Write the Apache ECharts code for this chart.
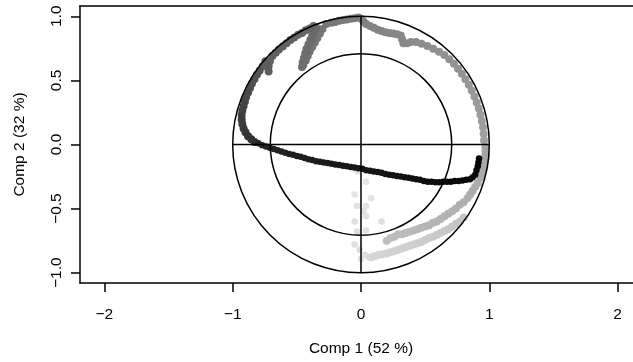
<!DOCTYPE html>
<html>
<head>
<meta charset="utf-8">
<script src="https://cdn.jsdelivr.net/npm/echarts@6/dist/echarts.min.js"></script>
<style>
  html, body { margin: 0; padding: 0; background: #fff; overflow: hidden; }
  #chart { width: 660px; height: 362px; }
</style>
</head>
<body>
<div id="chart"></div>
<script>
// Correlation circle: loadings of the variables on the first two components,
// drawn in variable order (light grey first, black last).

const xTickValues = [-2, -1, 0, 1, 2];
const xTickLabels = ['−2', '−1', '0', '1', '2'];
const yTickValues = [-1, -0.5, 0, 0.5, 1];
const yTickLabels = ['−1.0', '−0.5', '0.0', '0.5', '1.0'];
const xTitle = 'Comp 1 (52 %)';
const yTitle = 'Comp 2 (32 %)';

// reference circles (radius 1 and sqrt(0.5)) and the two axes through the origin
const circleRadii = [1, 0.7071];
const crossLines = [
  [[-1, 0], [1, 0]],
  [[0, -1], [0, 1]]
];

// variable loadings, in order
const lightSpread = [
  [-0.03,-0.21],[0.04,-0.29],[-0.05,-0.39],[0.08,-0.42],[-0.03,-0.48],[0.04,-0.48],
  [0.02,-0.52],[0.04,-0.56],[-0.05,-0.60],[0.16,-0.60],[-0.03,-0.68],[0.04,-0.67],
  [-0.05,-0.78],[-0.01,-0.82],[0.03,-0.86],[0.00,-0.89],[0.06,-0.88]
];
const lowerBand = [
  [0.08,-0.88],[0.11,-0.87],[0.14,-0.86],[0.17,-0.855],[0.20,-0.85],[0.23,-0.84],
  [0.26,-0.83],[0.29,-0.82],[0.32,-0.81],[0.35,-0.80],[0.38,-0.79],[0.41,-0.78],
  [0.44,-0.77],[0.47,-0.76],[0.50,-0.745],[0.53,-0.73],[0.56,-0.72],[0.59,-0.705],
  [0.62,-0.69],[0.65,-0.675],[0.68,-0.66],[0.71,-0.64],[0.74,-0.62],[0.77,-0.60],
  [0.80,-0.57]
];
const upperBand = [
  [0.20,-0.75],[0.23,-0.73],[0.26,-0.72],[0.29,-0.70],[0.32,-0.70],[0.35,-0.69],
  [0.38,-0.68],[0.41,-0.67],[0.44,-0.66],[0.47,-0.65],[0.50,-0.64],[0.53,-0.63],
  [0.56,-0.61],[0.59,-0.60],[0.62,-0.58],[0.65,-0.56],[0.68,-0.54],[0.71,-0.52],
  [0.74,-0.50],[0.77,-0.47],[0.80,-0.45],[0.83,-0.42],[0.85,-0.39],[0.87,-0.36],
  [0.89,-0.33],[0.91,-0.30],[0.93,-0.26],[0.94,-0.23],[0.95,-0.20],[0.96,-0.17],
  [0.965,-0.14],[0.97,-0.11],[0.97,-0.08],[0.97,-0.05],[0.97,-0.02]
];
const rightArc = [
  [0.959,0.034],[0.956,0.084],[0.951,0.134],[0.942,0.183],[0.931,0.232],[0.918,0.281],
  [0.902,0.328],[0.884,0.375],[0.863,0.421],[0.840,0.465],[0.814,0.509],[0.786,0.551],
  [0.756,0.591],[0.724,0.630],[0.688,0.664],[0.650,0.697],[0.608,0.724],[0.563,0.747],
  [0.518,0.768],[0.472,0.786],[0.429,0.800]
];
const topArc = [
  [0.39,0.800],[0.36,0.790],[0.33,0.790],[0.32,0.820],[0.31,0.850],[0.28,0.860],
  [0.25,0.865],[0.22,0.870],[0.19,0.875],[0.16,0.885],[0.13,0.895],[0.10,0.910],
  [0.07,0.925],[0.04,0.940],[0.02,0.960],[0.00,0.980],[-0.02,0.990]
];
const topLeftLoop = [
  [-0.05,0.985],[-0.08,0.98],[-0.11,0.975],[-0.14,0.97],[-0.17,0.965],[-0.20,0.955],
  [-0.23,0.95],[-0.27,0.94],[-0.30,0.90],[-0.32,0.865],[-0.34,0.83],[-0.36,0.795],
  [-0.38,0.76],[-0.40,0.725],[-0.415,0.69],[-0.43,0.655],[-0.45,0.62],[-0.46,0.605],
  [-0.455,0.64],[-0.445,0.675],[-0.435,0.71],[-0.425,0.745],[-0.41,0.78],[-0.395,0.815],
  [-0.38,0.85],[-0.365,0.885],[-0.35,0.915],[-0.37,0.925],[-0.40,0.905],[-0.43,0.89],
  [-0.46,0.87],[-0.49,0.855],[-0.52,0.835],[-0.55,0.815],[-0.58,0.79],[-0.61,0.765],
  [-0.64,0.74],[-0.665,0.715],[-0.69,0.69],[-0.71,0.65],[-0.72,0.61],[-0.72,0.57],
  [-0.745,0.65],[-0.765,0.61]
];
const leftArc = [
  [-0.79,0.575],[-0.81,0.545],[-0.83,0.51],[-0.85,0.475],[-0.865,0.44],[-0.88,0.405],
  [-0.895,0.37],[-0.905,0.335],[-0.915,0.30],[-0.925,0.265],[-0.93,0.23],[-0.93,0.195],
  [-0.925,0.16],[-0.915,0.125],[-0.90,0.095],[-0.88,0.065],[-0.855,0.04],[-0.83,0.02]
];
const blackTrail = [
  [-0.80,0.01],[-0.77,-0.005],[-0.74,-0.015],[-0.71,-0.025],[-0.68,-0.035],[-0.65,-0.045],
  [-0.62,-0.055],[-0.59,-0.065],[-0.56,-0.075],[-0.53,-0.08],[-0.50,-0.09],[-0.47,-0.095],
  [-0.44,-0.105],[-0.41,-0.115],[-0.38,-0.12],[-0.35,-0.13],[-0.32,-0.135],[-0.29,-0.14],
  [-0.26,-0.145],[-0.23,-0.15],[-0.20,-0.155],[-0.17,-0.16],[-0.14,-0.165],[-0.11,-0.17],
  [-0.08,-0.175],[-0.05,-0.18],[-0.02,-0.185],[0.01,-0.19],[0.04,-0.20],[0.07,-0.205],
  [0.10,-0.21],[0.13,-0.215],[0.16,-0.22],[0.19,-0.23],[0.22,-0.235],[0.25,-0.24],
  [0.28,-0.245],[0.31,-0.25],[0.34,-0.255],[0.37,-0.26],[0.40,-0.265],[0.43,-0.27],
  [0.46,-0.275],[0.49,-0.285],[0.52,-0.29],[0.55,-0.29],[0.58,-0.295],[0.61,-0.295],
  [0.64,-0.29],[0.67,-0.29],[0.70,-0.29],[0.73,-0.285],[0.76,-0.285],[0.79,-0.28],
  [0.82,-0.275],[0.85,-0.27],[0.87,-0.255],[0.89,-0.235],[0.90,-0.20],[0.91,-0.17],
  [0.915,-0.14],[0.92,-0.11]
];

const loadingGroups = [lightSpread, lowerBand, upperBand, rightArc, topArc, topLeftLoop, leftArc, blackTrail];

// grey ramp for each run of variables: [start level, end level], and marker size
const groupShades = [[228,220],[214,196],[190,165],[160,140],[138,128],[124,92],[86,48],[35,5]];
const groupSizes = [6.5, 8, 8, 8, 8, 8, 8, 6.5];

const points = [];
const pointColors = [];
const pointSizes = [];
loadingGroups.forEach((grp, gi) => {
  const [a, b] = groupShades[gi];
  grp.forEach((p, i) => {
    const t = grp.length > 1 ? i / (grp.length - 1) : 0;
    const g = Math.round(a + (b - a) * t);
    points.push(p);
    pointColors.push(`rgb(${g},${g},${g})`);
    pointSizes.push(groupSizes[gi]);
  });
});

const FONT = 'Liberation Sans, Arial, Helvetica, sans-serif';
const labelFor = (values, labels) => v => {
  const i = values.findIndex(t => Math.abs(t - v) < 1e-9);
  return i >= 0 ? labels[i] : '';
};
const frameLine = { show: true, onZero: false, lineStyle: { color: '#000', width: 1.5 } };

const chart = echarts.init(document.getElementById('chart'), null, { renderer: 'canvas' });

chart.setOption({
  animation: false,
  backgroundColor: '#fff',
  grid: { left: 80, top: 6, width: 562, height: 277, show: false },
  xAxis: [
    {
      type: 'value', min: -2.19, max: 2.19, position: 'bottom',
      name: xTitle, nameLocation: 'middle', nameGap: 58,
      nameTextStyle: { color: '#000', fontSize: 15.5, fontFamily: FONT },
      axisLine: frameLine,
      axisTick: { show: true, length: 9, customValues: xTickValues, lineStyle: { color: '#000', width: 1.5 } },
      axisLabel: {
        customValues: xTickValues, margin: 24, color: '#000', fontSize: 15.5, fontFamily: FONT,
        formatter: labelFor(xTickValues, xTickLabels)
      },
      splitLine: { show: false }
    },
    {
      // top edge of the plot frame
      type: 'value', min: -2.19, max: 2.19, position: 'top',
      axisLine: frameLine, axisTick: { show: false }, axisLabel: { show: false }, splitLine: { show: false }
    }
  ],
  yAxis: {
    type: 'value', min: -1.08, max: 1.08,
    name: yTitle, nameLocation: 'middle', nameGap: 52,
    nameTextStyle: { color: '#000', fontSize: 15.5, fontFamily: FONT },
    axisLine: frameLine,
    axisTick: { show: true, length: 9, customValues: yTickValues, lineStyle: { color: '#000', width: 1.5 } },
    axisLabel: {
      customValues: yTickValues, rotate: 90, margin: 15, color: '#000', fontSize: 15.5, fontFamily: FONT,
      formatter: labelFor(yTickValues, yTickLabels)
    },
    splitLine: { show: false }
  },
  series: [
    {
      type: 'scatter',
      data: points,
      symbol: 'circle',
      symbolSize: (val, p) => pointSizes[p.dataIndex],
      z: 2,
      itemStyle: { color: p => pointColors[p.dataIndex], opacity: 1 },
      emphasis: { disabled: true }
    },
    {
      type: 'custom',
      coordinateSystem: 'cartesian2d',
      data: circleRadii.map(r => [0, 0, r]),
      encode: { x: 0, y: 1 },
      z: 5,
      silent: true,
      renderItem: (params, api) => {
        const c = api.coord([api.value(0), api.value(1)]);
        const r = api.size([api.value(2), 0])[0];
        return {
          type: 'circle',
          shape: { cx: c[0], cy: c[1], r: r },
          style: { fill: 'none', stroke: '#000', lineWidth: 1.5 }
        };
      }
    },
    ...crossLines.map(seg => ({
      type: 'line',
      data: seg,
      symbol: 'none',
      z: 5,
      silent: true,
      lineStyle: { color: '#000', width: 1.5 }
    }))
  ]
});
</script>
</body>
</html>
